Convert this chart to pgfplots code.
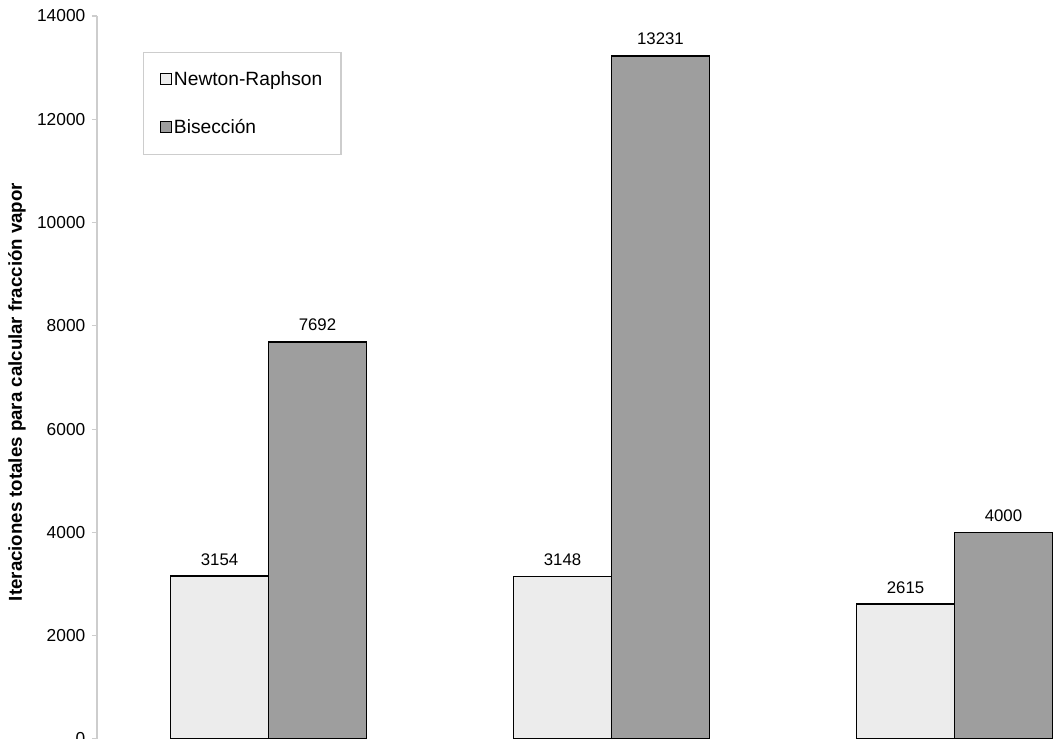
\documentclass[border=0pt]{standalone}
\usepackage{fontspec}
\setmainfont{Liberation Sans}
\usepackage{pgfplots}
\pgfplotsset{compat=1.18}

\definecolor{nrfill}{RGB}{236,236,236}
\definecolor{bisfill}{RGB}{158,158,158}
\definecolor{axisgray}{RGB}{205,205,205}

\begin{document}
\begin{tikzpicture}
\begin{axis}[
  at={(0pt,0pt)}, anchor=south west,
  scale only axis, width=771.75pt, height=542.25pt,
  xmin=0, xmax=3, ymin=0, ymax=14000,
  axis y line*=left, axis x line=none,
  y axis line style={-, draw=axisgray, line width=0.8pt},
  ytick={0,2000,...,14000}, xtick=\empty,
  scaled y ticks=false,
  tick align=outside, major tick length=3.75pt,
  ytick style={draw=axisgray, line width=0.8pt},
  /pgf/number format/assume math mode=true,
  /pgf/number format/1000 sep={},
  yticklabel style={font=\fontsize{13}{15}\selectfont, text=black, xshift=-1.5pt},
  ylabel={Iteraciones totales para calcular fracción vapor},
  ylabel style={at={(axis description cs:-0.0777,0.48)}, anchor=center,
    font=\bfseries\fontsize{14}{16}\selectfont},
  ybar, bar width=0.2857, bar shift=0pt,
  nodes near coords,
  nodes near coords style={font=\fontsize{12.6}{14}\selectfont, anchor=center,
    yshift=12.5pt, text=black},
  legend style={at={(axis description cs:0.0447,0.950)}, anchor=north west,
    draw=axisgray, line width=0.8pt, font=\fontsize{14.4}{17}\selectfont,
    row sep=20pt, inner xsep=12pt, inner ysep=12pt},
  legend cell align=left,
  every axis plot post/.append style={
    legend image code/.code={\draw[##1, line width=0.6pt] (0pt,-4.1pt) rectangle (8.25pt,4.1pt);}},
]
% Newton-Raphson
\addplot[fill=nrfill, draw=black, line width=1.2pt]
  coordinates {(0.3572,3154) (1.3572,3148) (2.3572,2615)};
% Bisección
\addplot[fill=bisfill, draw=black, line width=1.2pt]
  coordinates {(0.6428,7692) (1.6428,13231) (2.6428,4000)};
\legend{Newton-Raphson, Bisección}
\end{axis}
\pgfresetboundingbox
\path (-72.75pt,0.75pt) rectangle (723.75pt,554.25pt);
\end{tikzpicture}
\end{document}
